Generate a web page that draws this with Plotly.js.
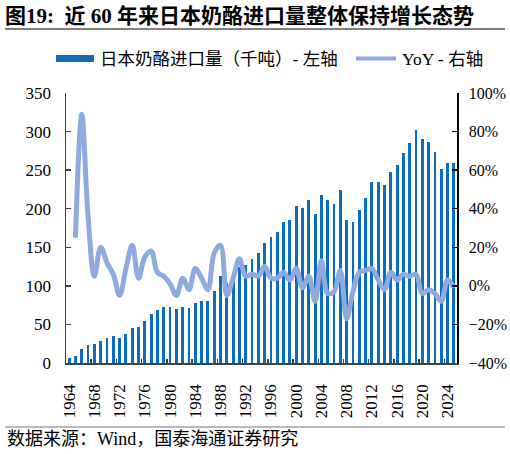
<!DOCTYPE html>
<html>
<head>
<meta charset="utf-8">
<script src="https://cdn.plot.ly/plotly-3.0.1.min.js"></script>
<style>
  html, body { margin: 0; padding: 0; background: #fff; }
  #chart { width: 510px; height: 454px; }
</style>
</head>
<body>
<div id="chart"></div>
<script>
// ---- data ----
const years = [];
for (let y = 1964; y <= 2025; y++) years.push(y);

// Japan cheese imports, thousand tonnes (left axis)
const imports = [
  7, 9, 18, 23, 24, 29, 33, 35, 33, 37,
  45, 47, 54, 63, 69, 72, 73, 70, 72, 71,
  78, 81, 80, 93, 113, 104, 106, 125, 127, 135,
  142, 156, 163, 170, 183, 186, 204, 201, 211, 193,
  218, 211, 206, 224, 186, 183, 198, 214, 234, 235,
  231, 248, 257, 272, 285, 302, 291, 287, 273, 251,
  259, 259
];

// YoY growth, % (right axis); no value for 1964
const yoy = [
  null, 25, 89, 36, 5, 20, 12, 6, -5, 9,
  21, 4, 15, 18, 7, 5, 1, -5, 4, -2,
  9, 4, -2, 17, 21, -5, 4, 14, 5, 6,
  5, 10, 4, 4, 7, 3, 9, -1, 5, -8,
  13, -4, -3, 8, -17, -3, 7, 8, 9, 3,
  -2, 7, 3, 6, 5, 6, -4, -2, -4, -8,
  3, -1
];

const xTickYears = [1964, 1968, 1972, 1976, 1980, 1984, 1988, 1992, 1996, 2000, 2004, 2008, 2012, 2016, 2020, 2024];
const xTickLabels = xTickYears.map(String);
const xBoundaryTicks = xTickYears.slice(1).map(v => v - 0.5);

const titleText = '图19:  近 60 年来日本奶酪进口量整体保持增长态势';
const seriesBarName = '日本奶酪进口量（千吨）- 左轴';
const seriesLineName = 'YoY - 右轴';
const sourceText = '数据来源：Wind，国泰海通证券研究';

// ---- styling ----
const barColor = '#0a6ebd';
const lineColor = '#8eaadf';
const serif = '"Liberation Serif", "Times New Roman", serif';
const mixed = '"Liberation Serif", "Noto Sans CJK SC", serif';

// plot area in px: left 66, right 457, top 93, bottom 363
const L = 66, R = 457, T = 93, B = 363;
const px = x => (x - L) / (R - L);
const py = y => (B - y) / (B - T);

const traces = [
  {
    type: 'bar',
    x: years,
    y: imports,
    width: 0.45,
    marker: { color: barColor, line: { width: 0 } },
    yaxis: 'y',
    showlegend: false,
    hoverinfo: 'skip'
  },
  {
    type: 'scatter',
    mode: 'lines',
    x: years,
    y: yoy,
    yaxis: 'y2',
    line: { color: lineColor, width: 5, shape: 'spline', smoothing: 1 },
    connectgaps: false,
    showlegend: false,
    hoverinfo: 'skip'
  }
];

const layout = {
  width: 510,
  height: 454,
  margin: { l: L, r: 510 - R, t: T, b: 454 - B, pad: 0 },
  paper_bgcolor: '#fff',
  plot_bgcolor: '#fff',
  showlegend: false,
  bargap: 0,
  title: {
    text: titleText,
    font: { family: '"Liberation Serif", "Noto Sans CJK SC", serif', size: 21, color: '#000', weight: 'bold' },
    xref: 'container', yref: 'container',
    x: 5 / 510, xanchor: 'left',
    y: 1 - 16 / 454, yanchor: 'middle'
  },
  xaxis: {
    type: 'linear',
    range: [1963.5, 2025.5],
    tickmode: 'array',
    tickvals: xTickYears,
    ticktext: xTickLabels,
    tickangle: -90,
    ticks: '',
    ticklabelstandoff: 13,
    tickfont: { family: serif, size: 17, color: '#000' },
    showline: true,
    linecolor: '#404040',
    linewidth: 1.5,
    showgrid: false,
    zeroline: false,
    minor: {
      tickmode: 'array',
      tickvals: xBoundaryTicks,
      ticks: 'inside',
      ticklen: 4,
      tickwidth: 1.5,
      tickcolor: '#404040',
      showgrid: false
    }
  },
  yaxis: {
    range: [0, 350],
    tickmode: 'linear',
    tick0: 0,
    dtick: 50,
    ticks: 'inside',
    ticklen: 5,
    tickwidth: 1.5,
    tickcolor: '#404040',
    ticklabelstandoff: 10,
    tickfont: { family: serif, size: 17, color: '#000' },
    showline: true,
    linecolor: '#404040',
    linewidth: 1.5,
    showgrid: false,
    zeroline: false
  },
  yaxis2: {
    overlaying: 'y',
    side: 'right',
    range: [-40, 100],
    tickmode: 'linear',
    tick0: -40,
    dtick: 20,
    ticksuffix: '%',
    ticks: 'inside',
    ticklen: 5,
    tickwidth: 1.5,
    tickcolor: '#000',
    ticklabelstandoff: 7,
    tickfont: { family: serif, size: 16, color: '#000' },
    showline: true,
    linecolor: '#000',
    linewidth: 1.5,
    showgrid: false,
    zeroline: false
  },
  shapes: [
    // rule under title
    { type: 'line', xref: 'paper', yref: 'paper', x0: px(5), x1: px(505), y0: py(29), y1: py(29),
      line: { color: '#555', width: 1.5 } },
    // rule above source
    { type: 'line', xref: 'paper', yref: 'paper', x0: px(5), x1: px(505), y0: py(427), y1: py(427),
      line: { color: '#777', width: 1.2 } },
    // legend swatch: bars
    { type: 'rect', xref: 'paper', yref: 'paper', x0: px(56), x1: px(94), y0: py(62), y1: py(55),
      fillcolor: barColor, line: { width: 0 } },
    // legend swatch: line
    { type: 'line', xref: 'paper', yref: 'paper', x0: px(356), x1: px(396), y0: py(58.5), y1: py(58.5),
      line: { color: lineColor, width: 4 } }
  ],
  annotations: [
    { text: seriesBarName, xref: 'paper', yref: 'paper', x: px(98), y: py(58.5),
      xanchor: 'left', yanchor: 'middle', showarrow: false,
      font: { family: mixed, size: 17.5, color: '#000' } },
    { text: seriesLineName, xref: 'paper', yref: 'paper', x: px(400), y: py(58.5),
      xanchor: 'left', yanchor: 'middle', showarrow: false,
      font: { family: mixed, size: 17.5, color: '#000' } },
    { text: sourceText, xref: 'paper', yref: 'paper', x: px(5), y: py(439),
      xanchor: 'left', yanchor: 'middle', showarrow: false,
      font: { family: mixed, size: 18, color: '#000' } }
  ]
};

Plotly.newPlot('chart', traces, layout, { displayModeBar: false, staticPlot: true });
</script>
</body>
</html>
